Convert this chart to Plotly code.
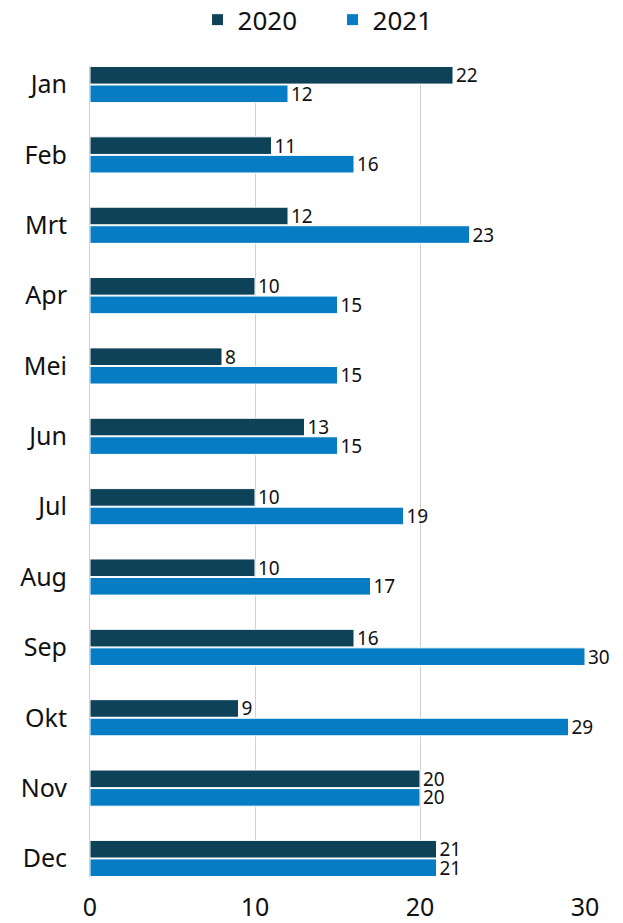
import plotly.graph_objects as go

# monthly values
months = ["Jan", "Feb", "Mrt", "Apr", "Mei", "Jun", "Jul", "Aug", "Sep", "Okt", "Nov", "Dec"]
y2020 = [22, 11, 12, 10, 8, 13, 10, 10, 16, 9, 20, 21]
y2021 = [12, 16, 23, 15, 15, 15, 19, 17, 30, 29, 20, 21]
x_ticks = [0, 10, 20, 30]

FONT = "Noto Sans, Open Sans, sans-serif"
group_w = 0.527

fig = go.Figure()
fig.add_trace(go.Bar(
    y=months, x=y2020, name="2020", orientation="h",
    marker=dict(color="#0e4259", line=dict(color="white", width=1)),
    text=y2020, textposition="outside", cliponaxis=False,
    textfont=dict(size=19, color="#111"),
))
fig.add_trace(go.Bar(
    y=months, x=y2021, name="2021", orientation="h",
    marker=dict(color="#057cc4", line=dict(color="white", width=1)),
    text=y2021, textposition="outside", cliponaxis=False,
    textfont=dict(size=19, color="#111"),
))

fig.update_layout(
    width=623, height=923,
    margin=dict(l=90, r=38, t=66, b=46, autoexpand=False),
    paper_bgcolor="white", plot_bgcolor="white",
    font=dict(family=FONT, color="#111"),
    barmode="group", bargap=1 - group_w, bargroupgap=0.05,
    showlegend=True,
    legend=dict(orientation="h", x=0.49, xanchor="center", y=1.057, yanchor="middle",
                font=dict(size=26), itemwidth=30, entrywidth=90,
                traceorder="normal"),
    xaxis=dict(range=[0, 30], tickvals=x_ticks, showgrid=True, gridcolor="#d0d0d0",
               gridwidth=1, zeroline=False, showline=False,
               tickfont=dict(size=25), ticklabelstandoff=13),
    yaxis=dict(range=[len(months) - 1 + group_w / 2, -group_w / 2],
               showgrid=False, zeroline=False, showline=True, linecolor="#d0d0d0",
               tickfont=dict(size=25), ticklabelstandoff=17),
    uniformtext=dict(minsize=19, mode="show"),
)

# drop the page's default body margin so the figure fills the window
fig.write_html("out.html", config={"displayModeBar": False},
               post_script="document.body.style.margin='0';")
